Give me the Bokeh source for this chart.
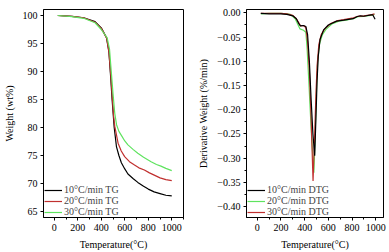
from bokeh.plotting import figure
from bokeh.layouts import row
from bokeh.models import FixedTicker, Legend, LegendItem, CustomJSTickFormatter, Range1d
from bokeh.embed import file_html
from bokeh.resources import INLINE

# ---------------- data ----------------
# TG curves: temperature (°C) and weight (wt%)
tg10_t = [30, 150, 250, 347, 400, 445, 465, 480, 492, 501, 510, 529, 550, 571, 600, 627, 670, 711, 760, 800, 850, 900, 950, 1000]
tg10_w = [100, 99.85, 99.6, 98.9, 97.8, 96.0, 93.5, 89.0, 85.0, 82.5, 80.0, 76.6, 75.0, 73.7, 72.6, 71.7, 70.9, 70.2, 69.5, 69.0, 68.5, 68.2, 67.9, 67.8]
tg20_t = [30, 150, 250, 347, 400, 445, 465, 480, 495, 505, 515, 543, 570, 599, 640, 683, 720, 767, 810, 851, 900, 950, 1000]
tg20_w = [100, 99.85, 99.6, 98.8, 97.7, 96.0, 93.5, 89.5, 85.0, 82.0, 80.2, 77.2, 75.8, 74.8, 73.9, 73.3, 72.8, 72.4, 71.9, 71.5, 71.0, 70.7, 70.5]
tg30_t = [30, 150, 250, 347, 400, 450, 470, 485, 500, 515, 530, 550, 571, 600, 627, 670, 711, 760, 824, 870, 908, 950, 1000]
tg30_w = [100, 99.8, 99.5, 98.7, 97.5, 96.0, 94.0, 90.0, 86.0, 82.5, 80.5, 79.3, 78.6, 77.6, 76.9, 76.1, 75.4, 74.7, 73.9, 73.4, 73.1, 72.7, 72.3]

# DTG curves: temperature (°C) and derivative weight (%/min)
dtg10_t = [30, 100, 200, 250, 300, 330, 350, 365, 390, 410, 425, 440, 455, 470, 485, 495, 505, 515, 530, 560, 600, 670, 730, 810, 840, 870, 900, 960, 975, 995]
dtg10_v = [-0.001, -0.002, -0.002, -0.003, -0.006, -0.012, -0.022, -0.027, -0.026, -0.028, -0.045, -0.10, -0.18, -0.25, -0.295, -0.22, -0.14, -0.09, -0.055, -0.035, -0.025, -0.017, -0.015, -0.012, -0.008, -0.006, -0.007, -0.004, -0.004, -0.013]
dtg20_t = [30, 100, 200, 250, 280, 320, 345, 360, 390, 410, 420, 435, 455, 478, 490, 500, 510, 525, 550, 580, 630, 690, 750, 810, 850, 900, 960, 990]
dtg20_v = [-0.002, -0.001, -0.001, -0.002, -0.003, -0.012, -0.025, -0.033, -0.036, -0.040, -0.07, -0.14, -0.24, -0.33, -0.24, -0.16, -0.10, -0.065, -0.045, -0.034, -0.023, -0.017, -0.015, -0.012, -0.008, -0.007, -0.005, -0.003]
dtg30_t = [30, 100, 200, 250, 300, 330, 350, 365, 390, 410, 425, 440, 455, 471, 485, 495, 505, 520, 540, 570, 620, 680, 730, 800, 850, 900, 960, 990]
dtg30_v = [-0.001, -0.001, -0.001, -0.002, -0.005, -0.012, -0.020, -0.027, -0.026, -0.030, -0.06, -0.12, -0.22, -0.347, -0.25, -0.17, -0.11, -0.065, -0.045, -0.033, -0.022, -0.016, -0.014, -0.011, -0.007, -0.006, -0.004, -0.002]

tg_labels = ["10°C/min TG", "20°C/min TG", "30°C/min TG"]
dtg_labels = ["10°C/min DTG", "20°C/min DTG", "30°C/min DTG"]

x_ticks = [0, 200, 400, 600, 800, 1000]
x_minor = [-100, 100, 300, 500, 700, 900, 1100]
tg_y_ticks = [65, 70, 75, 80, 85, 90, 95, 100]
dtg_y_ticks = [0.0, -0.05, -0.10, -0.15, -0.20, -0.25, -0.30, -0.35, -0.40]
dtg_y_minor = [-0.025, -0.075, -0.125, -0.175, -0.225, -0.275, -0.325, -0.375, -0.425]

BLACK = "#000000"
RED = "#c0302f"
GREEN = "#5fe35f"
FONT = "Liberation Serif"


def style(p):
    p.outline_line_color = "black"
    p.outline_line_width = 1
    p.xgrid.visible = False
    p.ygrid.visible = False
    for ax in p.axis:
        ax.axis_line_color = "black"
        ax.major_tick_line_color = "black"
        ax.minor_tick_line_color = "black"
        ax.major_tick_in = 0
        ax.major_tick_out = 3
        ax.minor_tick_in = 0
        ax.minor_tick_out = 2
        ax.major_label_text_font = FONT
        ax.major_label_text_font_size = "10px"
        ax.major_label_text_color = "black"
        ax.major_label_standoff = 3
        ax.axis_label_text_font = FONT
        ax.axis_label_text_font_size = "10px"
        ax.axis_label_text_font_style = "normal"
        ax.axis_label_text_color = "black"
        ax.axis_label_standoff = 5


def make_legend(items):
    lg = Legend(items=items, location=(0, -1))
    lg.margin = 0
    lg.padding = 1
    lg.spacing = -4
    lg.glyph_width = 18
    lg.glyph_height = 8
    lg.label_height = 8
    lg.label_standoff = 2
    lg.label_text_font = FONT
    lg.label_text_font_size = "10px"
    lg.background_fill_alpha = 0
    lg.border_line_alpha = 0
    return lg


# ---------------- TG ----------------
p1 = figure(width=195, height=252, output_backend="svg", toolbar_location=None,
            x_range=Range1d(-92, 1100), y_range=Range1d(63.93, 101.07),
            min_border_left=41, min_border_right=12, min_border_top=9, min_border_bottom=34)
r10 = p1.line(tg10_t, tg10_w, line_color=BLACK, line_width=1.2)
r20 = p1.line(tg20_t, tg20_w, line_color=RED, line_width=1.2)
r30 = p1.line(tg30_t, tg30_w, line_color=GREEN, line_width=1.2)
p1.xaxis.ticker = FixedTicker(ticks=x_ticks, minor_ticks=x_minor)
p1.yaxis.ticker = FixedTicker(ticks=tg_y_ticks, minor_ticks=[])
p1.xaxis.axis_label = "Temperature(°C)"
p1.yaxis.axis_label = "Weight (wt%)"
style(p1)
p1.add_layout(make_legend([LegendItem(label=tg_labels[0], renderers=[r10]),
                           LegendItem(label=tg_labels[1], renderers=[r20]),
                           LegendItem(label=tg_labels[2], renderers=[r30])]))

# ---------------- DTG ----------------
p2 = figure(width=194, height=252, output_backend="svg", toolbar_location=None,
            x_range=Range1d(-91, 1066), y_range=Range1d(-0.4226, 0.007),
            min_border_left=48, min_border_right=6, min_border_top=9, min_border_bottom=33)
d20 = p2.line(dtg20_t, dtg20_v, line_color=GREEN, line_width=1.2)
d30 = p2.line(dtg30_t, dtg30_v, line_color=RED, line_width=1.2)
d10 = p2.line(dtg10_t, dtg10_v, line_color=BLACK, line_width=1.2)
p2.xaxis.ticker = FixedTicker(ticks=x_ticks, minor_ticks=x_minor)
p2.yaxis.ticker = FixedTicker(ticks=dtg_y_ticks, minor_ticks=dtg_y_minor)
p2.yaxis.formatter = CustomJSTickFormatter(
    code="return (tick < -1e-9 ? '\u2212' : '') + Math.abs(tick).toFixed(2);")
p2.xaxis.axis_label = "Temperature(°C)"
p2.yaxis.axis_label = "Derivative Weight (%/min)"
style(p2)
p2.add_layout(make_legend([LegendItem(label=dtg_labels[0], renderers=[d10]),
                           LegendItem(label=dtg_labels[1], renderers=[d20]),
                           LegendItem(label=dtg_labels[2], renderers=[d30])]))

layout = row(p1, p2)
open("out.html", "w").write(file_html(layout, INLINE))
